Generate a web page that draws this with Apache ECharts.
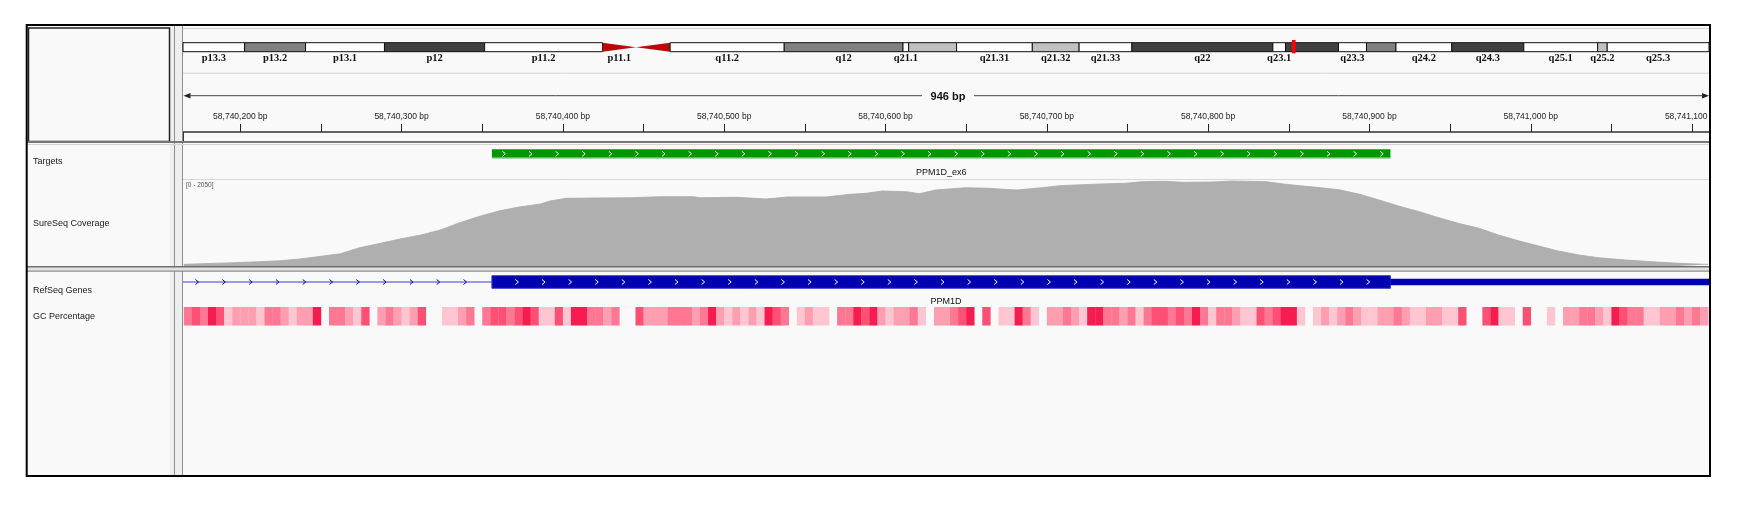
<!DOCTYPE html>
<html>
<head>
<meta charset="utf-8">
<title>PPM1D exon 6 - SureSeq coverage</title>
<script src="https://cdn.jsdelivr.net/npm/echarts@6/dist/echarts.min.js"></script>
<style>
    html, body { margin: 0; padding: 0; background: #fff; }
    #main { width: 1744px; height: 508px; }
</style>
</head>
<body>
<div id="main"></div>
<script>
// view window on chr17 (bp)
var posBase = 58740000;
var viewStart = 58740164.5;
var viewEnd = 58741110.5;

// chr17 ideogram (Mb)
var chromLength = 81.195;
var bandName = ['p13.3', 'p13.2', 'p13.1', 'p12', 'p11.2', 'p11.1', 'q11.1', 'q11.2', 'q12', 'q21.1', 'q21.2', 'q21.31',
    'q21.32', 'q21.33', 'q22', 'q23.1', 'q23.2', 'q23.3', 'q24.1', 'q24.2', 'q24.3', 'q25.1', 'q25.2', 'q25.3'];
var bandLabel = ['p13.3', 'p13.2', 'p13.1', 'p12', 'p11.2', 'p11.1', '', 'q11.2', 'q12', 'q21.1', '', 'q21.31',
    'q21.32', 'q21.33', 'q22', 'q23.1', '', 'q23.3', '', 'q24.2', 'q24.3', 'q25.1', 'q25.2', 'q25.3'];
var bandStart = [0, 3.28, 6.52, 10.72, 16.05, 22.32, 24.10, 25.92, 31.99, 38.31, 38.61, 41.16,
    45.19, 47.68, 50.49, 57.99, 58.66, 61.48, 62.97, 64.54, 67.51, 71.34, 75.27, 75.78];
var bandEnd = [3.28, 6.52, 10.72, 16.05, 22.32, 24.10, 25.92, 31.99, 38.31, 38.61, 41.16, 45.19,
    47.68, 50.49, 57.99, 58.66, 61.48, 62.97, 64.54, 67.51, 71.34, 75.27, 75.78, 81.195];
var bandStain = ['gneg', 'gpos50', 'gneg', 'gpos75', 'gneg', 'acen', 'acen', 'gneg', 'gpos50', 'gneg', 'gpos25', 'gneg',
    'gpos25', 'gneg', 'gpos75', 'gneg', 'gpos75', 'gneg', 'gpos50', 'gneg', 'gpos75', 'gneg', 'gpos25', 'gneg'];
var viewMarkMb = [59.00, 59.20];

// ruler
var rulerTicks = [58740200, 58740250, 58740300, 58740350, 58740400, 58740450, 58740500, 58740550, 58740600,
    58740650, 58740700, 58740750, 58740800, 58740850, 58740900, 58740950, 58741000, 58741050, 58741100];
var rulerLabels = [58740200, 58740300, 58740400, 58740500, 58740600, 58740700, 58740800, 58740900, 58741000, 58741100];

// targets
var targetName = ['PPM1D_ex6'];
var targetStart = [58740356];
var targetEnd = [58740913];

// SureSeq coverage, offsets from posBase, depth (range 0 - 2050)
var covMax = 2050;
var covPos = [165, 177, 196, 212, 225, 237, 250, 262, 274, 287, 299, 312, 324, 336, 349, 361, 373, 386, 392, 402,
    421, 442, 460, 481, 485, 508, 526, 539, 563, 578, 588, 598, 613, 621, 631, 650, 664, 681, 697, 708,
    722, 733, 749, 759, 774, 784, 803, 815, 836, 848, 867, 881, 894, 906, 918, 931, 943, 955, 968, 980,
    993, 1005, 1017, 1030, 1042, 1059, 1075, 1092, 1110];
var covDepth = [41, 55, 79, 103, 126, 167, 231, 293, 436, 541, 644, 739, 858, 1032, 1192, 1318, 1407, 1478, 1550, 1614,
    1621, 1628, 1652, 1652, 1628, 1638, 1597, 1645, 1645, 1709, 1733, 1788, 1771, 1724, 1812, 1867, 1852, 1812, 1867, 1914,
    1938, 1955, 1972, 2010, 2019, 1995, 2003, 2026, 2010, 1948, 1876, 1819, 1709, 1573, 1430, 1295, 1151, 1018, 899, 739,
    596, 477, 358, 262, 198, 143, 103, 64, 38];

// RefSeq gene parts
var geneName = 'PPM1D';
var genePartStart = [58740000, 58740356, 58740913];
var genePartEnd = [58740356, 58740913, 58741300];
var genePartKind = ['intron', 'cds', 'utr'];

// GC percentage, 5 bp windows from gcStart (null = no colour)
var gcStart = 58740165;
var gcStep = 5;
var gcPercent = [
    58, 66, 58, 75, 66, 40, 50, 50, 50, 40,
    58, 58, 50, 40, 50, 50, 75, null, 58, 58,
    50, 40, 66, null, 50, 58, 50, 40, 50, 66,
    null, null, 40, 40, 50, 58, null, 58, 66, 66,
    58, 66, 75, 66, 40, 40, 66, 40, 75, 75,
    58, 58, 50, 58, null, null, 66, 50, 50, 50,
    58, 58, 58, 50, 58, 75, 50, 40, 50, 40,
    50, 40, 75, 66, 58, null, 40, 50, 40, 40,
    null, 58, 58, 75, 66, 75, 50, 40, 50, 50,
    58, 40, null, 50, 50,
    58, 66, 75, null, 66,
    null, 40, 40, 75, 58, 40, null, 50, 50, 58,
    50, 40, 75, 75, 58, 58, 50, 58, 40, 58,
    66, 66, 58, 66, 58, 75, 58, 40, 58, 58,
    50, 40, 40, 66, 58, 66, 75, 75, 40, null,
    40, 50, 40, 50, 58, 50, 40, 40, 50, 50,
    58, 50, 40, 40, 50, 50, 40, 40, 66, null,
    null, 66, 75, 40, 40, null, 66, null, null, 40,
    null, 50, 50, 58, 58, 50, 40, 75, 66, 58,
    58, 40, 40, 50, 50, 58, 50, 58, 50
];

var trackNames = ['Targets', 'SureSeq Coverage', 'RefSeq Genes', 'GC Percentage'];

var stainColor = {
    gneg: '#ffffff',
    gpos25: '#c0c0c0',
    gpos50: '#808080',
    gpos75: '#404040',
    acen: '#b80a0a'
};

var SANS = '"Liberation Sans", Arial, sans-serif';

function fmtBp(v) {
    var s = String(Math.round(v)).replace(/\B(?=(\d{3})+(?!\d))/g, ',');
    return s + ' bp';
}

function clampX(x, cs) {
    return Math.max(cs.x, Math.min(cs.x + cs.width, x));
}

function chevron(x, y, color) {
    return {
        type: 'polyline',
        shape: { points: [[x - 1.5, y - 2.5], [x + 1.5, y], [x - 1.5, y + 2.5]] },
        style: { stroke: color, lineWidth: 1, fill: null }
    };
}

/**
 * ideogram band
 */
function renderBand(params, api) {
    var idx = api.value(2);
    var p0 = api.coord([api.value(0), 1]);
    var p1 = api.coord([api.value(1), 0]);
    var x0 = p0[0], x1 = p1[0], top = p0[1], bot = p1[1], mid = (top + bot) / 2;
    var children = [];
    if (bandStain[idx] === 'acen') {
        var pts = bandName[idx].charAt(0) === 'p'
            ? [[x0, top], [x0, bot], [x1, mid]]
            : [[x0, mid], [x1, top], [x1, bot]];
        children.push({ type: 'polygon', shape: { points: pts }, style: { fill: stainColor.acen } });
    }
    else {
        children.push({
            type: 'rect',
            shape: { x: x0, y: top, width: x1 - x0, height: bot - top },
            style: { fill: stainColor[bandStain[idx]], stroke: '#111', lineWidth: 1 }
        });
    }
    if (bandLabel[idx]) {
        children.push({
            type: 'text',
            x: (x0 + x1) / 2,
            y: bot + 1.2,
            style: {
                text: bandLabel[idx], align: 'center', verticalAlign: 'top',
                font: 'bold 10.5px "Liberation Serif", "DejaVu Serif", serif', fill: '#111'
            }
        });
    }
    return { type: 'group', children: children };
}

function renderMark(params, api) {
    var p0 = api.coord([api.value(0), 1]);
    var p1 = api.coord([api.value(1), 0]);
    return {
        type: 'rect',
        shape: { x: p0[0], y: p0[1] - 2.7, width: Math.max(3, p1[0] - p0[0]), height: p1[1] - p0[1] + 4.3 },
        style: { fill: '#ff0000' }
    };
}

function renderTarget(params, api) {
    var cs = params.coordSys;
    var p0 = api.coord([api.value(0), 1]);
    var p1 = api.coord([api.value(1), 0]);
    var x0 = clampX(p0[0], cs), x1 = clampX(p1[0], cs);
    var top = p0[1], bot = p1[1], mid = (top + bot) / 2;
    var children = [{
        type: 'rect',
        shape: { x: x0, y: top, width: x1 - x0, height: bot - top },
        style: { fill: '#009600' }
    }, {
        type: 'line',
        shape: { x1: x0, y1: bot - 0.5, x2: x1, y2: bot - 0.5 },
        style: { stroke: '#7fcc7f', lineWidth: 1 }
    }];
    for (var x = x0 + 12; x < x1 - 4; x += 26.6) {
        children.push(chevron(x, mid, '#ffffff'));
    }
    children.push({
        type: 'text',
        x: (x0 + x1) / 2,
        y: bot + 14.4,
        style: { text: targetName[params.dataIndex], align: 'center', verticalAlign: 'middle', font: '9px ' + SANS, fill: '#111' }
    });
    return { type: 'group', children: children };
}

function renderGenePart(params, api) {
    var cs = params.coordSys;
    var kind = genePartKind[params.dataIndex];
    var p0 = api.coord([api.value(0), 1]);
    var p1 = api.coord([api.value(1), 0]);
    var x0 = clampX(p0[0], cs), x1 = clampX(p1[0], cs);
    var top = p0[1], bot = p1[1], mid = (top + bot) / 2;
    var children = [];
    var x;
    if (kind === 'intron') {
        children.push({
            type: 'line',
            shape: { x1: x0, y1: mid, x2: x1, y2: mid },
            style: { stroke: '#3c3cdc', lineWidth: 1.2 }
        });
        for (x = x0 + 14; x < x1 - 8; x += 26.8) {
            children.push(chevron(x, mid, '#0000b4'));
        }
    }
    else if (kind === 'cds') {
        children.push({
            type: 'rect',
            shape: { x: x0, y: top, width: x1 - x0, height: bot - top },
            style: { fill: '#0000b0', stroke: '#3a3ac8', lineWidth: 1 }
        });
        for (x = x0 + 25; x < x1 - 4; x += 26.6) {
            children.push(chevron(x, mid, '#ffffff'));
        }
    }
    else {
        children.push({
            type: 'rect',
            shape: { x: x0, y: mid - 3.3, width: x1 - x0, height: 6.6 },
            style: { fill: '#0000b0' }
        });
    }
    return { type: 'group', children: children };
}

function renderGeneLabel(params, api) {
    var cs = params.coordSys;
    var x0 = clampX(api.coord([api.value(0), 0])[0], cs);
    var x1 = clampX(api.coord([api.value(1), 0])[0], cs);
    var bot = api.coord([api.value(0), 0])[1];
    return {
        type: 'text',
        x: (x0 + x1) / 2,
        y: bot + 13.4,
        style: { text: geneName, align: 'center', verticalAlign: 'middle', font: '9px ' + SANS, fill: '#111' }
    };
}

function renderGc(params, api) {
    var p0 = api.coord([api.value(0), 1]);
    var p1 = api.coord([api.value(1), 0]);
    return {
        type: 'rect',
        shape: { x: p0[0], y: p0[1], width: p1[0] - p0[0] + 0.3, height: p1[1] - p0[1] },
        style: { fill: api.visual('color') }
    };
}

var bandData = bandName.map(function (n, i) {
    return [bandStart[i], bandEnd[i], i];
});
var targetData = targetName.map(function (n, i) {
    return [targetStart[i], targetEnd[i]];
});
var covData = covPos.map(function (p, i) {
    return [posBase + p, covDepth[i]];
});
var geneData = genePartKind.map(function (k, i) {
    return [genePartStart[i], genePartEnd[i]];
});
var gcData = [];
gcPercent.forEach(function (v, k) {
    if (v !== null) {
        gcData.push([gcStart + k * gcStep, gcStart + (k + 1) * gcStep, v]);
    }
});

// one grid per track, all sharing the same horizontal extent
var trackBoxes = [
    { top: 42.7, height: 9 },     // ideogram
    { top: 100, height: 32 },     // ruler
    { top: 149.3, height: 9 },    // targets
    { top: 180, height: 86 },     // coverage
    { top: 275.7, height: 12.6 }, // genes
    { top: 307, height: 18.5 }    // gc
];
var grids = trackBoxes.map(function (b) {
    return { left: 183, width: 1526, top: b.top, height: b.height, containLabel: false };
});

var xAxes = trackBoxes.map(function (b, i) {
    return {
        type: 'value', gridIndex: i, show: false,
        min: i === 0 ? 0 : viewStart,
        max: i === 0 ? chromLength : viewEnd,
        splitLine: { show: false }
    };
});
xAxes[1] = {
    type: 'value', gridIndex: 1, min: viewStart, max: viewEnd, position: 'bottom',
    axisLine: { show: true, lineStyle: { color: '#333', width: 1.5 } },
    axisTick: { show: true, inside: true, length: 8, customValues: rulerTicks, lineStyle: { color: '#222', width: 1 } },
    axisLabel: {
        show: true, inside: true, margin: 11, customValues: rulerLabels, formatter: fmtBp,
        fontSize: 8.5, fontFamily: SANS, color: '#222'
    },
    splitLine: { show: false }
};
var yAxes = trackBoxes.map(function (b, i) {
    return { type: 'value', gridIndex: i, show: false, min: 0, max: i === 3 ? covMax : 1, splitLine: { show: false } };
});

var lineG = function (x1, y1, x2, y2, color, w, z) {
    return { type: 'line', z: z || 1, shape: { x1: x1, y1: y1, x2: x2, y2: y2 }, style: { stroke: color, lineWidth: w } };
};
var textG = function (x, y, text, font, color, align) {
    return {
        type: 'text', z: 5, x: x, y: y,
        style: { text: text, font: font, fill: color, align: align || 'left', verticalAlign: 'middle' }
    };
};

var graphics = [
    { type: 'rect', z: 0, shape: { x: 27, y: 25, width: 1683, height: 451 }, style: { fill: '#f9f9f9' } },
    // divider between name panel and data panel
    { type: 'rect', z: 0, shape: { x: 170, y: 26, width: 13, height: 450 }, style: { fill: '#eeeeee' } },
    lineG(174.5, 26, 174.5, 476, '#8e8e8e', 1),
    lineG(182.5, 26, 182.5, 476, '#8e8e8e', 1),
    // name header box
    { type: 'rect', z: 1, shape: { x: 28.5, y: 28, width: 141, height: 113.5 }, style: { fill: '#f9f9f9', stroke: '#222', lineWidth: 1.5 } },
    // header separators
    lineG(183, 28.5, 1709, 28.5, '#cfcfcf', 1),
    lineG(183, 73.2, 1709, 73.2, '#d6d6d6', 1),
    lineG(183.5, 132, 183.5, 141, '#333', 1),
    // ruler span
    { type: 'polygon', z: 5, shape: { points: [[183.5, 95.7], [190.5, 93], [190.5, 98.4]] }, style: { fill: '#222' } },
    { type: 'polygon', z: 5, shape: { points: [[1709, 95.7], [1702, 93], [1702, 98.4]] }, style: { fill: '#222' } },
    lineG(189, 95.7, 922, 95.7, '#444', 1, 5),
    lineG(974, 95.7, 1703, 95.7, '#444', 1, 5),
    textG(948, 96.5, Math.round(viewEnd - viewStart) + ' bp', 'bold 11px ' + SANS, '#111', 'center'),
    // panel separators
    lineG(27, 142, 1710, 142, '#767676', 2, 6),
    lineG(27, 144.5, 1710, 144.5, '#d4d4d4', 1, 6),
    lineG(183, 179.5, 1709, 179.5, '#d8d8d8', 1, 1),
    { type: 'rect', z: 6, shape: { x: 27, y: 267.3, width: 1683, height: 3.4 }, style: { fill: '#e2e2e2' } },
    lineG(27, 266.8, 1710, 266.8, '#6e6e6e', 1.5, 6),
    lineG(27, 271.2, 1710, 271.2, '#8c8c8c', 1.2, 6),
    textG(186, 185.7, '[0 - ' + covMax + ']', '6.5px ' + SANS, '#555'),
    // track names
    textG(33, 161.7, trackNames[0], '9px ' + SANS, '#1a1a1a'),
    textG(33, 223.7, trackNames[1], '9px ' + SANS, '#1a1a1a'),
    textG(33, 290.3, trackNames[2], '9px ' + SANS, '#1a1a1a'),
    textG(33, 316.7, trackNames[3], '9px ' + SANS, '#1a1a1a'),
    // outside of frame stays white
    { type: 'rect', z: 50, shape: { x: 1711, y: 20, width: 33, height: 460 }, style: { fill: '#ffffff' } },
    // outer frame
    { type: 'rect', z: 100, shape: { x: 26.7, y: 25, width: 1683.3, height: 451 }, style: { fill: null, stroke: '#000', lineWidth: 2 } }
];

var chart = echarts.init(document.getElementById('main'), null, { renderer: 'canvas' });

chart.setOption({
    backgroundColor: '#ffffff',
    animation: false,
    grid: grids,
    xAxis: xAxes,
    yAxis: yAxes,
    visualMap: {
        type: 'continuous', show: false, seriesIndex: 6, dimension: 2,
        min: 35, max: 80,
        inRange: { color: ['#ffd8e0', '#ff9eb1', '#ff5579', '#f2003a'] }
    },
    graphic: { elements: graphics },
    series: [{
        type: 'custom', name: 'ideogram', xAxisIndex: 0, yAxisIndex: 0,
        renderItem: renderBand, data: bandData, encode: { x: [0, 1] }, silent: true
    }, {
        type: 'custom', name: 'view', xAxisIndex: 0, yAxisIndex: 0, z: 3,
        renderItem: renderMark, data: [viewMarkMb], encode: { x: [0, 1] }, silent: true
    }, {
        type: 'custom', name: 'Targets', xAxisIndex: 2, yAxisIndex: 2,
        renderItem: renderTarget, data: targetData, encode: { x: [0, 1] }, silent: true
    }, {
        type: 'line', name: 'SureSeq Coverage', xAxisIndex: 3, yAxisIndex: 3,
        data: covData, showSymbol: false, symbol: 'none', silent: true,
        lineStyle: { color: '#a9a9a9', width: 0.8 },
        areaStyle: { color: '#afafaf', opacity: 1 }
    }, {
        type: 'custom', name: 'RefSeq Genes', xAxisIndex: 4, yAxisIndex: 4,
        renderItem: renderGenePart, data: geneData, encode: { x: [0, 1] }, silent: true
    }, {
        type: 'custom', name: 'gene label', xAxisIndex: 4, yAxisIndex: 4,
        renderItem: renderGeneLabel, data: [[genePartStart[0], genePartEnd[genePartEnd.length - 1]]],
        encode: { x: [0, 1] }, silent: true
    }, {
        type: 'custom', name: 'GC Percentage', xAxisIndex: 5, yAxisIndex: 5,
        renderItem: renderGc, data: gcData, encode: { x: [0, 1] }, silent: true
    }]
});
</script>
</body>
</html>
